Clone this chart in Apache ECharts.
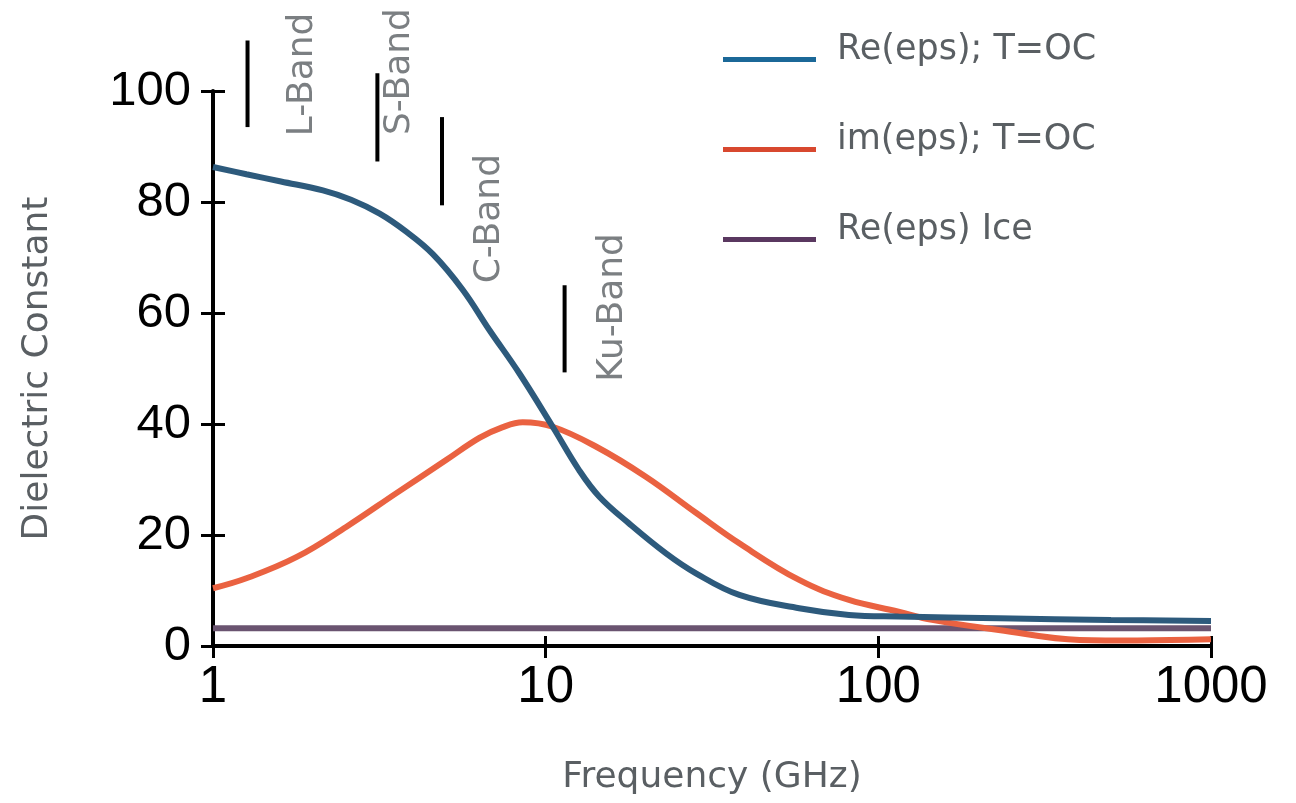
<!DOCTYPE html>
<html>
<head>
<meta charset="utf-8">
<script src="https://cdn.jsdelivr.net/npm/echarts@6/dist/echarts.min.js"></script>
<style>html,body{margin:0;padding:0;background:#fff;}#c{width:1296px;height:803px;}</style>
</head>
<body>
<div id="c"></div>
<script>
// ---- data ----
const seriesNames = ['Re(eps); T=OC', 'im(eps); T=OC', 'Re(eps) Ice'];
const reFreq = [1, 1.26, 1.6, 2.14, 2.6, 3.17, 3.8, 4.58, 5.63, 6.78, 8.34, 10.5, 12.6, 14.5, 17.8, 23, 28.3, 38.2, 57.8, 81.6, 115, 230, 500, 1000];
const reVals = [86.3, 85.0, 83.7, 82.1, 80.4, 77.9, 74.7, 70.6, 64.2, 56.9, 49.1, 39.5, 31.7, 26.9, 22.1, 16.7, 13.1, 9.2, 6.8, 5.6, 5.3, 5.0, 4.7, 4.5];
const imFreq = [1, 1.26, 1.78, 2.52, 3.55, 5.02, 6.32, 7.4, 8.53, 10.5, 14.2, 20, 28.3, 38.2, 57.8, 81.6, 115, 145, 230, 403, 600, 1000];
const imVals = [10.4, 12.2, 16.0, 21.5, 27.5, 33.5, 37.5, 39.4, 40.3, 39.5, 35.9, 30.5, 24.0, 18.5, 11.9, 8.3, 6.2, 4.7, 2.9, 1.1, 1.0, 1.2];
const iceFreq = [1, 1000];
const iceVals = [3.2, 3.2];
const bandNames = ['L-Band', 'S-Band', 'C-Band', 'Ku-Band'];
const bandLineFreq = [1.27, 3.12, 4.88, 11.4];
const bandLineTop = [109.1, 103.2, 95.3, 65.0];
const bandLineBottom = [93.5, 87.3, 79.4, 49.3];
const bandLabelFreq = [1.86, 3.64, 6.78, 15.9];
const bandLabelY = [103.0, 103.5, 77.0, 61.0];
const xTicks = [1, 10, 100, 1000];

const curveColors = ['#2d5a7c', '#ea6241', '#6a5470'];
const legendColors = ['#1b6898', '#d8482f', '#5a3860'];
const textGray = '#5a5f63';
const zip = (a, b) => a.map((v, i) => [v, b[i]]);

const series = [
  { name: seriesNames[0], type: 'line', data: zip(reFreq, reVals), z: 5 },
  { name: seriesNames[1], type: 'line', data: zip(imFreq, imVals), z: 4 },
  { name: seriesNames[2], type: 'line', data: zip(iceFreq, iceVals), z: 2 }
].map((s, i) => Object.assign(s, {
  showSymbol: false, symbol: 'none', smooth: 0.4,
  lineStyle: { color: curveColors[i], width: 6 }, itemStyle: { color: curveColors[i] }
}));

bandNames.forEach((n, i) => {
  series.push({
    type: 'line', name: n + ' marker', clip: false, symbol: 'none', silent: true,
    data: [[bandLineFreq[i], bandLineTop[i]], [bandLineFreq[i], bandLineBottom[i]]],
    lineStyle: { color: '#000', width: 4 }, z: 6
  });
});
series.push({
  type: 'scatter', name: 'bandLabels', clip: false, symbolSize: 0, silent: true,
  data: bandNames.map((n, i) => ({ name: n, value: [bandLabelFreq[i], bandLabelY[i]] })),
  label: {
    show: true, position: 'inside', rotate: 90, formatter: '{b}',
    fontFamily: 'DejaVu Sans', fontSize: 36, color: textGray, align: 'center', verticalAlign: 'middle'
  }
});

const tickLabelStyle = { fontFamily: 'Liberation Sans, Arial, sans-serif', color: '#000' };
const option = {
  animation: false,
  backgroundColor: '#fff',
  grid: { left: 213, right: 85, top: 91, bottom: 157, containLabel: false },
  legend: {
    orient: 'vertical', left: 718, top: 27, itemWidth: 93, itemHeight: 5, itemGap: 35,
    icon: 'rect',
    formatter: n => n + '\n ',
    textStyle: { fontFamily: 'DejaVu Sans', fontSize: 35, lineHeight: 20, color: textGray, padding: [0, 0, 0, 16] },
    data: seriesNames.map((n, i) => ({ name: n, itemStyle: { color: legendColors[i] } })),
    selectedMode: false
  },
  xAxis: [{
    type: 'log', logBase: 10, min: 1, max: 1000,
    name: 'Frequency (GHz)', nameLocation: 'middle', nameGap: 114,
    nameTextStyle: { fontFamily: 'DejaVu Sans', fontSize: 36, color: textGray },
    axisLine: { show: true, lineStyle: { color: '#000', width: 4 } },
    axisTick: { show: true, length: 12, lineStyle: { color: '#000', width: 3 } },
    axisLabel: Object.assign({ fontSize: 51, margin: 16, formatter: v => (xTicks.indexOf(v) >= 0 ? String(v) : '') }, tickLabelStyle),
    splitLine: { show: false }, minorTick: { show: false }
  }, {
    type: 'log', logBase: 10, min: 1, max: 1000, position: 'bottom',
    axisLine: { show: false },
    axisTick: { show: true, inside: true, length: 10, lineStyle: { color: '#000', width: 3 } },
    axisLabel: { show: false }, splitLine: { show: false }
  }],
  yAxis: [{
    type: 'value', min: 0, max: 100, interval: 20,
    name: 'Dielectric Constant', nameLocation: 'middle', nameGap: 157, nameRotate: 90,
    nameTextStyle: { fontFamily: 'DejaVu Sans', fontSize: 36, color: textGray },
    axisLine: { show: true, lineStyle: { color: '#000', width: 4 } },
    axisTick: { show: true, length: 12, lineStyle: { color: '#000', width: 3 } },
    axisLabel: Object.assign({ fontSize: 49, margin: 22 }, tickLabelStyle),
    splitLine: { show: false }
  }, {
    type: 'value', min: 0, max: 100, interval: 20, position: 'left',
    axisLine: { show: false },
    axisTick: { show: true, inside: true, length: 12, lineStyle: { color: '#000', width: 3 } },
    axisLabel: { show: false }, splitLine: { show: false }
  }],
  series: series
};
const chart = echarts.init(document.getElementById('c'), null, { renderer: 'canvas' });
chart.setOption(option);
</script>
</body>
</html>
